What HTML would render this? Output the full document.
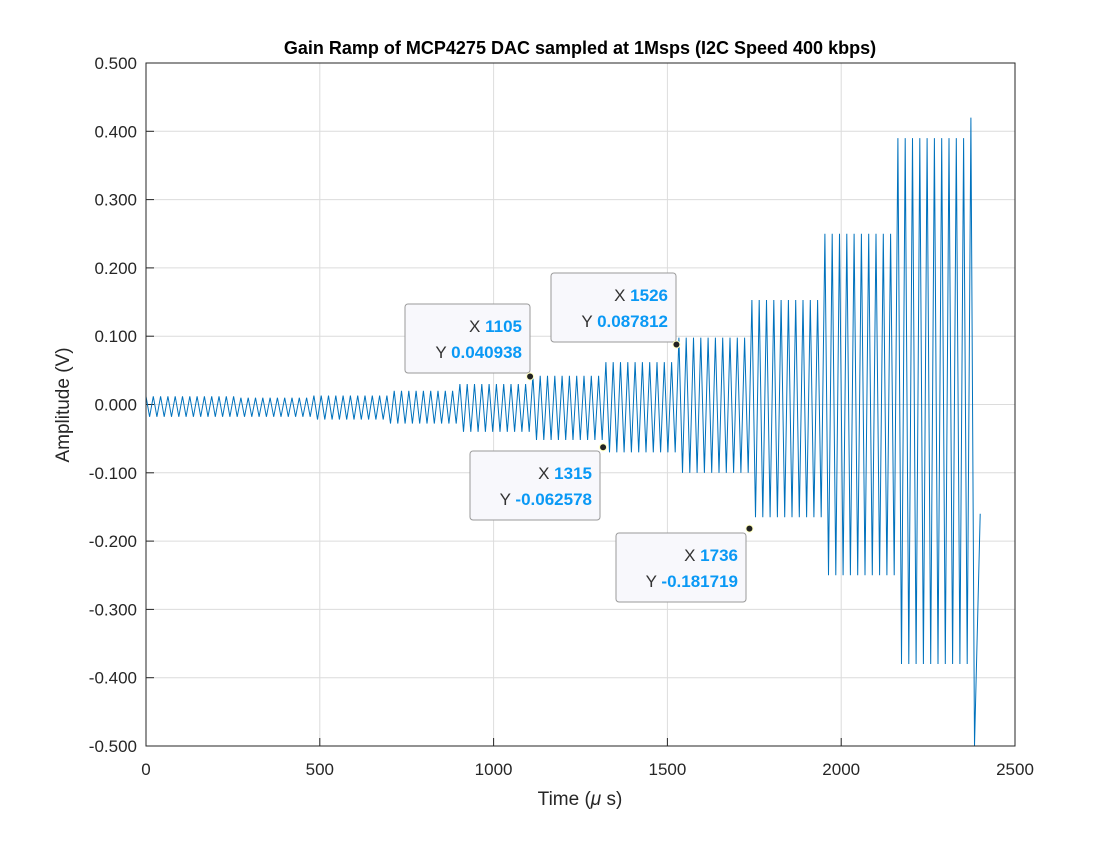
<!DOCTYPE html>
<html><head><meta charset="utf-8"><style>
body{margin:0;background:#fff;}
svg text{font-family:"Liberation Sans",Arial,sans-serif;}
</style></head><body>
<svg id="chart" width="1120" height="840" viewBox="0 0 1120 840">
<rect x="0" y="0" width="1120" height="840" fill="#fff"/>
<g id="grid"></g>
<g id="ticks"></g>
<g id="series"></g>
<rect x="146" y="63" width="869" height="683" fill="none" stroke="#262626" stroke-width="1"/>
<g id="tips"></g>
<text x="580" y="54" text-anchor="middle" font-size="18" font-weight="bold" fill="#000">Gain Ramp of MCP4275 DAC sampled at 1Msps (I2C Speed 400 kbps)</text>
<text x="580" y="805" text-anchor="middle" font-size="19" fill="#262626">Time (<tspan font-style="italic">μ</tspan> s)</text>
<text x="0" y="0" transform="translate(69,405) rotate(-90)" text-anchor="middle" font-size="19" fill="#262626">Amplitude (V)</text>
</svg>
<script>
const xTicks=[0,500,1000,1500,2000,2500];
const yTicks=[0.5,0.4,0.3,0.2,0.1,0,-0.1,-0.2,-0.3,-0.4,-0.5];
const segStart=[0,260,480,700,895,1105,1315,1526,1736,1946,2157,2367];
const segMax=[0.012,0.010,0.013,0.020,0.030,0.042,0.062,0.098,0.153,0.250,0.390,0.420];
const segMin=[-0.018,-0.018,-0.022,-0.028,-0.040,-0.052,-0.070,-0.100,-0.165,-0.250,-0.380,-0.560];
const period=[21];
const endTime=[2400];
const endValue=[-0.16];
const tipX=[1105,1315,1526,1736];
const tipY=[0.040938,-0.062578,0.087812,-0.181719];
const NS='http://www.w3.org/2000/svg';
const X0=146,X1=1015,Y0=746,Y1=63;
const sx=v=>X0+(v-0)/(2500-0)*(X1-X0);
const sy=v=>Y0-(v+0.5)/1.0*(Y0-Y1);
function mk(tag,attrs,parent){const e=document.createElementNS(NS,tag);for(const k in attrs)e.setAttribute(k,attrs[k]);parent.appendChild(e);return e;}
const grid=document.getElementById('grid'),ticks=document.getElementById('ticks');
xTicks.forEach(t=>{
 const l=mk('line',{x1:sx(t),x2:sx(t),y1:Y1,y2:Y0,stroke:'#dcdcdc','stroke-width':1},grid);
 
 
 const tk=mk('line',{x1:sx(t),x2:sx(t),y1:Y0,y2:Y0-8,stroke:'#262626'},ticks);
 
 
 const tx=mk('text',{x:sx(t),y:Y0+29,'text-anchor':'middle','font-size':17,fill:'#262626'},ticks);
 tx.textContent=String(t);
 
 
});
yTicks.forEach(t=>{
 const l=mk('line',{x1:X0,x2:X1,y1:sy(t),y2:sy(t),stroke:'#dcdcdc','stroke-width':1},grid);
 
 
 const tk=mk('line',{x1:X0,x2:X0+8,y1:sy(t),y2:sy(t),stroke:'#262626'},ticks);
 
 
 const tx=mk('text',{x:X0-9,y:sy(t)+6,'text-anchor':'end','font-size':17,fill:'#262626'},ticks);
 tx.textContent=t.toFixed(3);
 
 
});
// waveform from per-segment peak levels
let pts=[];
const half=period[0]/2;
let t=0,hi=true;
while(t<endTime[0]-half){
 let s=0;for(let i=0;i<segStart.length;i++)if(t>=segStart[i])s=i;
 let v=hi?segMax[s]:segMin[s];
 pts.push([t,Math.max(-0.5,Math.min(0.5,v))]);
 t+=half;hi=!hi;
}
pts.push([endTime[0],endValue[0]]);
const sg=document.getElementById('series');
const d=pts.map((p,i)=>(i?'L':'M')+sx(p[0]).toFixed(1)+','+sy(p[1]).toFixed(1)).join('');
const path=mk('path',{d:d,fill:'none',stroke:'#0072BD','stroke-width':1},sg);


// data tips
const tips=document.getElementById('tips');
const boxes=[[405,304],[470,451],[551,273],[616,533]];
tipX.forEach((x,i)=>{
 const g=mk('g',{},tips);
 
 
 const bx=boxes[i][0],by=boxes[i][1],w=i%2?130:125,h=69;
 mk('rect',{x:bx,y:by,width:w,height:h,rx:3,fill:'#f8f8fc',stroke:'#9a9a9a'},g);
 const t1=mk('text',{x:bx+w-8,y:by+28,'text-anchor':'end','font-size':17,fill:'#333'},g);
 t1.innerHTML='X <tspan fill="#0a99f5" font-weight="bold">'+x+'</tspan>';
 const t2=mk('text',{x:bx+w-8,y:by+54,'text-anchor':'end','font-size':17,fill:'#333'},g);
 t2.innerHTML='Y <tspan fill="#0a99f5" font-weight="bold">'+tipY[i].toFixed(6)+'</tspan>';
 const c=mk('circle',{cx:sx(x),cy:sy(tipY[i]),r:3.5,fill:'#222',stroke:'#ffffc0','stroke-width':1},g);
 
 
});
</script>
</body></html>
